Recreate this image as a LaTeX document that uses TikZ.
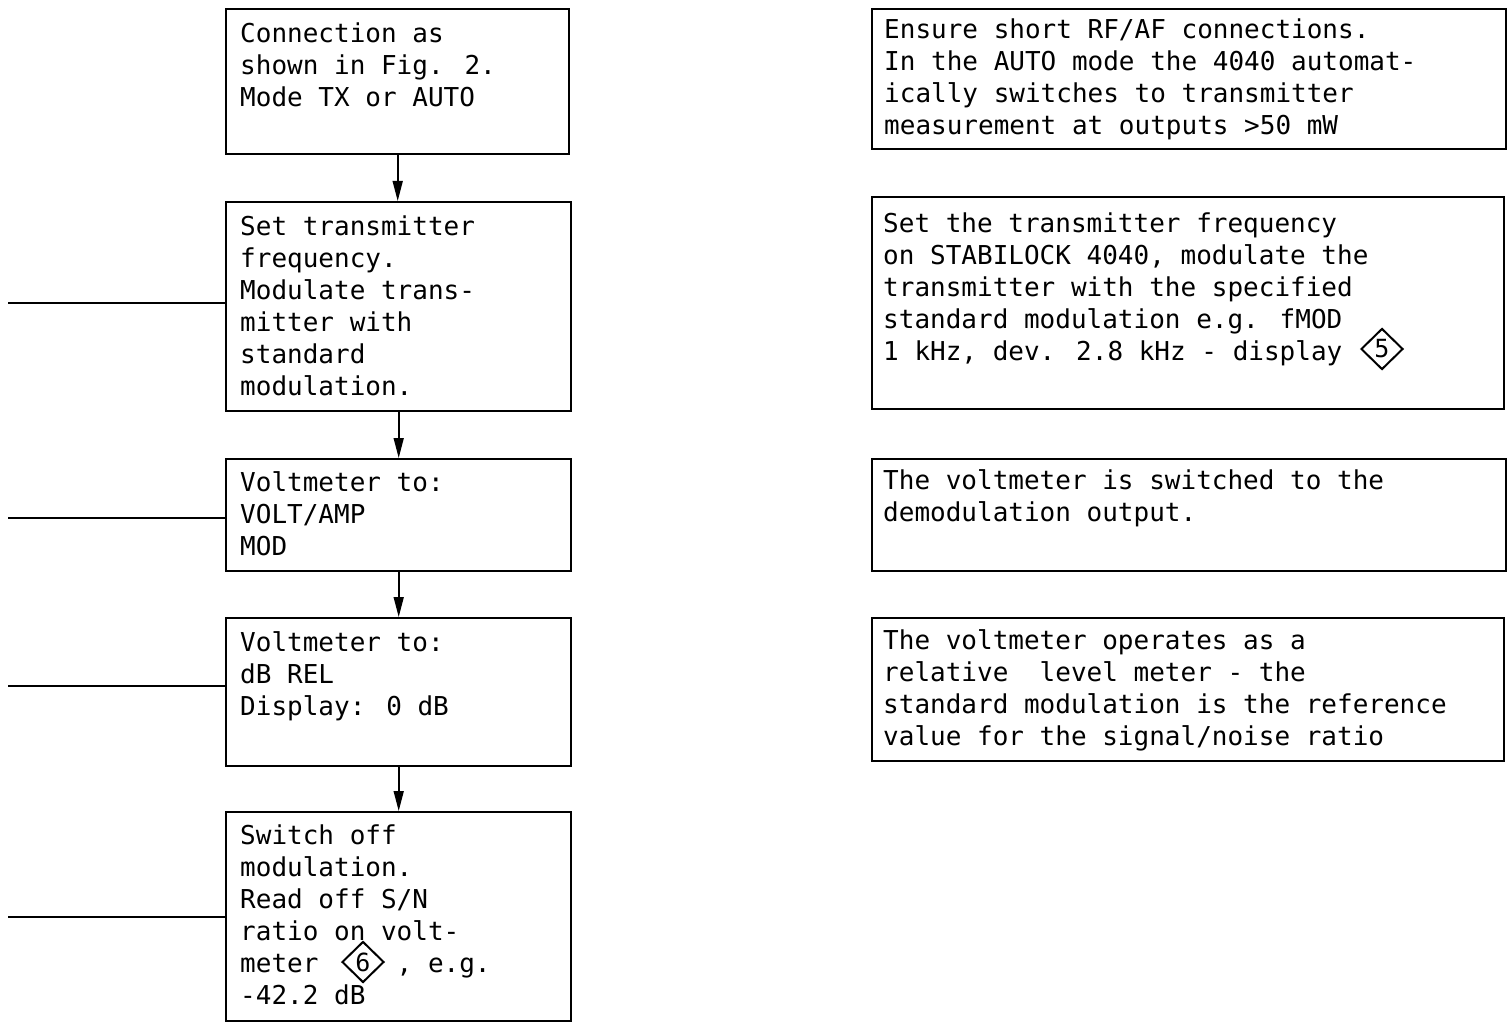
\documentclass[tikz,border=0pt]{standalone}
\usepackage{fontspec}
\newfontfamily\mono{DejaVu Sans Mono}
\usetikzlibrary{shapes.geometric,arrows.meta}
\begin{document}
\begin{tikzpicture}[x=1pt,y=-1pt,
  box/.style={draw, line width=2.4pt, anchor=north west, inner sep=0pt},
  txt/.style={anchor=base west, inner sep=0pt, align=left,
    font=\mono\fontsize{26pt}{32pt}\selectfont},
  arr/.style={line width=1.6pt, -{Triangle[length=20pt,width=10pt]}},
  lline/.style={line width=2.8pt},
  dmd/.style={draw, diamond, line width=2pt, inner sep=0pt,
    minimum width=42pt, minimum height=41pt,
    font=\mono\fontsize{25pt}{26pt}\selectfont}]
\useasboundingbox (0,0) rectangle (1510,1027);

% left column boxes
\node[box, minimum width=343pt, minimum height=145pt] (b1) at (225,8) {};
\node[box, minimum width=345pt, minimum height=209pt] (b2) at (225,201) {};
\node[box, minimum width=345pt, minimum height=112pt] (b3) at (225,458) {};
\node[box, minimum width=345pt, minimum height=148pt] (b4) at (225,617) {};
\node[box, minimum width=345pt, minimum height=209pt] (b5) at (225,811) {};

% (base anchor = baseline of the last line)
\node[txt] (t1) at (240,107) {Connection as\\shown in Fig. 2.\\Mode TX or AUTO};
\node[txt] (t2) at (240,395) {Set transmitter\\frequency.\\Modulate trans-\\mitter with\\standard\\modulation.};
\node[txt] (t3) at (240,555) {Voltmeter to:\\VOLT/AMP\\MOD};
\node[txt] (t4) at (240,715) {Voltmeter to:\\dB REL\\Display: 0 dB};
\node[txt] (t5) at (240,1004) {Switch off\\modulation.\\Read off S/N\\ratio on volt-\\meter\ \ \ \ \ , e.g.\\-42.2 dB};
\node[dmd] (d6) at (363,962) {6};

% arrows
\draw[arr] (b1.south) -- (b1.south |- b2.north);
\draw[arr] (b2.south) -- (b2.south |- b3.north);
\draw[arr] (b3.south) -- (b3.south |- b4.north);
\draw[arr] (b4.south) -- (b4.south |- b5.north);

% left lines
\coordinate (l2) at (8,303);
\coordinate (l3) at (8,518);
\coordinate (l4) at (8,686);
\coordinate (l5) at (8,917);
\draw[lline] (l2) -- (l2 -| b2.west);
\draw[lline] (l3) -- (l3 -| b3.west);
\draw[lline] (l4) -- (l4 -| b4.west);
\draw[lline] (l5) -- (l5 -| b5.west);

% right column boxes
\node[box, minimum width=634pt, minimum height=140pt] (r1) at (871,8) {};
\node[box, minimum width=632pt, minimum height=212pt] (r2) at (871,196) {};
\node[box, minimum width=634pt, minimum height=112pt] (r3) at (871,458) {};
\node[box, minimum width=632pt, minimum height=143pt] (r4) at (871,617) {};

\node[txt] (s1) at (884,135) {Ensure short RF/AF connections.\\In the AUTO mode the 4040 automat-\\ically switches to transmitter\\measurement at outputs >50 mW};
\node[txt] (s2) at (883,360) {Set the transmitter frequency\\on STABILOCK 4040, modulate the\\transmitter with the specified\\standard modulation e.g. fMOD\\1 kHz, dev. 2.8 kHz - display};
\node[dmd] (d5) at (1382,349) {5};
\node[txt] (s3) at (883,521) {The voltmeter is switched to the\\demodulation output.};
\node[txt] (s4) at (883,745) {The voltmeter operates as a\\relative\ \ level meter - the\\standard modulation is the reference\\value for the signal/noise ratio};
\end{tikzpicture}
\end{document}
